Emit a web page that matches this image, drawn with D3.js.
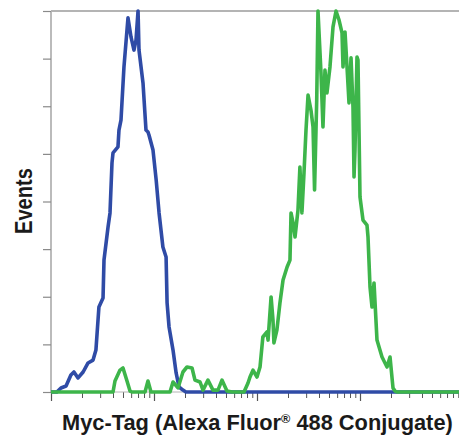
<!DOCTYPE html>
<html><head><meta charset="utf-8">
<script src="https://cdn.jsdelivr.net/npm/d3@7"></script>
<style>html,body{margin:0;padding:0;background:#fff;}svg{display:block;}</style>
</head><body>
<svg id="c" width="459" height="436"></svg>
<script>
// Blue histogram (control) : [fluorescence, events]
const blueX = [1,1.14,1.25,1.40,1.56,1.67,1.83,2.05,2.29,2.56,2.73,2.92,3.20,3.27,3.58,3.74,3.91,4.00,4.47,4.57,4.78,5.11,5.59,5.98,6.39,6.69,7.00,7.15,7.82,8.36,8.74,8.94,9.78,10.5,11.2,12.2,13.1,13.4,14.0,15.3,16.4,17.5,19.1,20.4,10000];
const blueY = [0,0,1.7,2.5,7.1,8.4,5.9,8.4,12.2,13.4,17.6,35.7,39.5,55.4,69.3,75.2,96.2,100.4,102.9,110,114.2,136.5,157.1,149.1,143.6,147.8,160,143.6,129.8,110,109.2,107.9,101.6,89,75.2,60.9,56.7,37.4,27.3,17.6,8,2.1,0.8,0,0];
// Green histogram (Myc-Tag Alexa Fluor 488)
const greenX = [1,4.0,4.18,4.68,5.0,5.47,5.85,6.11,8.18,8.74,9.35,14.3,15.3,17.1,19.1,20.9,23.4,25.0,28.0,29.9,33.4,37.4,41.8,45.7,51.1,57.2,74.8,81.8,85.5,91.4,100,107,114,125,128,137,143,146,156,167,179,196,209,214,224,234,250,261,273,286,299,313,334,350,362,380,391,418,437,457,478,511,547,585,626,669,684,715,748,782,818,855,875,894,935,956,978,1000,1069,1169,1196,1251,1308,1368,1462,1636,1829,1956,2091,2188,2287,10000];
const greenY = [0,0,4.6,9.2,10.1,4.6,0.4,0,0,4.6,0,0,4.2,1.7,8.4,10.5,10.1,5.0,4.2,0.8,5.0,0.8,0.8,5.0,0.4,0,0,3.8,6.3,9.2,6.3,10.5,23.1,25.2,21.8,39.9,30.2,20.6,26,37.4,47,52.5,55.4,75.2,71,65.1,76.4,94.5,75.2,92,110,124.7,118.4,111.3,84.8,122.6,160,134,111.3,135.2,125.6,136.5,153.3,160,156.2,150.8,136.5,151.2,136.5,121.4,140.3,119.7,90.3,101.6,140.7,139.4,110,81.9,72.2,70.1,65.1,44.1,35.7,45.8,21.8,14.7,10.5,14.7,1.7,0.4,0,0];
const xDomain = [1, 10000];
const yDomain = [0, 160];
const yTicks = [0,20,40,60,80,100,120,140,160];
const xLabel = "Myc-Tag (Alexa Fluor\u00AE 488 Conjugate)";
const yLabel = "Events";

const svg = d3.select("#c");
const L = 51, R = 463, T = 11, B = 392;
const x = d3.scaleLog().domain(xDomain).range([L, R]);
const y = d3.scaleLinear().domain(yDomain).range([B, T]);

// frame: top and left lines
svg.append("line").attr("x1",L).attr("x2",459).attr("y1",T).attr("y2",T)
  .attr("stroke","#b4b4b4").attr("stroke-width",1.8);
svg.append("line").attr("x1",L).attr("x2",L).attr("y1",T).attr("y2",B)
  .attr("stroke","#b4b4b4").attr("stroke-width",1.8);

// Left axis
const ya = d3.axisLeft(y).tickValues(yTicks).tickSize(8).tickFormat("");
const gy = svg.append("g").attr("transform",`translate(${L},0)`).call(ya);
gy.select(".domain").remove();
gy.selectAll(".tick line").attr("stroke","#8a8a8a").attr("stroke-width",1.2);

// Bottom axis: major and minor log ticks
const majors = [1,10,100,1000,10000];
const minors = [];
[1,10,100,1000].forEach(d => { for (let k=2;k<=9;k++) minors.push(d*k); });
const gxMin = svg.append("g").attr("transform",`translate(0,${B})`)
  .call(d3.axisBottom(x).tickValues(minors).tickSize(6).tickFormat(""));
gxMin.select(".domain").remove();
gxMin.selectAll(".tick line").attr("stroke","#555").attr("stroke-width",1);
const gxMaj = svg.append("g").attr("transform",`translate(0,${B})`)
  .call(d3.axisBottom(x).tickValues(majors).tickSize(9).tickFormat(""));
gxMaj.select(".domain").attr("stroke","#b4b4b4").attr("d",`M${L},0H459`);
gxMaj.selectAll(".tick line").attr("stroke","#555").attr("stroke-width",1.2);

const line = d3.line().x(d => x(d[0])).y(d => y(d[1]));
const blue = blueX.map((v,i)=>[v, blueY[i]]);
const green = greenX.map((v,i)=>[v, greenY[i]]);

svg.append("defs").append("clipPath").attr("id","clip")
  .append("rect").attr("x",L).attr("y",T-2).attr("width",459-L).attr("height",B-T+5);

svg.append("path").datum(blue).attr("d",line).attr("fill","none")
  .attr("stroke","#2f4ba6").attr("stroke-width",3.6).attr("stroke-linejoin","round")
  .attr("clip-path","url(#clip)");
svg.append("path").datum(green).attr("d",line).attr("fill","none")
  .attr("stroke","#3db54a").attr("stroke-width",3.6).attr("stroke-linejoin","round")
  .attr("clip-path","url(#clip)");

const font = "'Liberation Sans Narrow','Liberation Sans','DejaVu Sans Condensed',sans-serif";

// x label, condensed by horizontal scaling to match width
const parts = xLabel.split("\u00AE");
const gxl = svg.append("g");
const xt = gxl.append("text").attr("x",0).attr("y",0)
  .attr("font-family",font).attr("font-weight","bold").attr("font-size",22.5)
  .attr("fill","#1a1a1a");
xt.append("tspan").text(parts[0]);
xt.append("tspan").text("\u00AE").attr("font-size",13).attr("baseline-shift","7");
xt.append("tspan").text(parts[1]);
const wx = xt.node().getBBox().width;
gxl.attr("transform",`translate(62,430) scale(${391/wx},1)`);

// y label
const gyl = svg.append("g");
const yt = gyl.append("text").attr("x",0).attr("y",0)
  .attr("font-family",font).attr("font-weight","bold").attr("font-size",23)
  .attr("fill","#1a1a1a").text(yLabel);
const wy = yt.node().getBBox().width;
gyl.attr("transform",`translate(32,234) rotate(-90) scale(${66/wy},1)`);
</script>
</body></html>
